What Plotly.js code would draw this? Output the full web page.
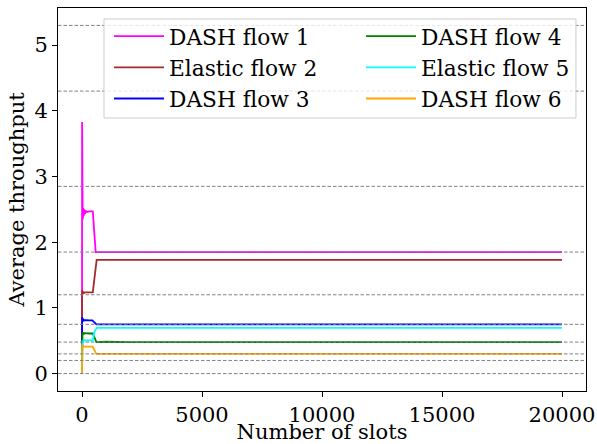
<!DOCTYPE html>
<html>
<head>
<meta charset="utf-8">
<script src="https://cdn.plot.ly/plotly-3.0.1.min.js"></script>
<style>html,body{margin:0;padding:0;background:#fff;}#chart{width:597px;height:444px;}</style>
</head>
<body>
<div id="chart"></div>
<script>
// ---- data ----
const seriesNames = ["DASH flow 1", "Elastic flow 2", "DASH flow 3", "DASH flow 4", "Elastic flow 5", "DASH flow 6"];
const seriesColors = ["#ff00ff", "#a52a2a", "#0000ff", "#008000", "#00ffff", "#ffa500"];

const flow1X = [0, 5, 15, 25, 35, 50, 70, 90, 120, 150, 200, 300, 450, 570, 1000, 5000, 10000, 15000, 20000];
const flow1Y = [0, 3.83, 2.30, 2.55, 2.35, 2.52, 2.40, 2.50, 2.43, 2.48, 2.46, 2.47, 2.47, 1.85, 1.85, 1.85, 1.85, 1.85, 1.85];

const flow2X = [0, 5, 20, 40, 70, 100, 200, 300, 450, 610, 1000, 1500, 2000, 5000, 10000, 15000, 20000];
const flow2Y = [0, 1.27, 1.21, 1.25, 1.22, 1.235, 1.235, 1.235, 1.235, 1.73, 1.73, 1.735, 1.73, 1.73, 1.73, 1.73, 1.73];

const flow3X = [0, 5, 20, 40, 70, 100, 200, 300, 430, 600, 1000, 5000, 10000, 15000, 20000];
const flow3Y = [0, 0.86, 0.79, 0.84, 0.80, 0.815, 0.81, 0.81, 0.81, 0.75, 0.75, 0.75, 0.75, 0.75, 0.75];

const flow4X = [0, 5, 20, 40, 70, 100, 200, 300, 450, 600, 1000, 2000, 5000, 10000, 15000, 20000];
const flow4Y = [0, 0.55, 0.60, 0.63, 0.60, 0.615, 0.61, 0.61, 0.61, 0.48, 0.485, 0.48, 0.48, 0.48, 0.48, 0.48];

const flow5X = [0, 5, 20, 40, 70, 100, 200, 300, 450, 520, 620, 1000, 5000, 10000, 15000, 20000];
const flow5Y = [0, 0.45, 0.50, 0.48, 0.51, 0.505, 0.505, 0.505, 0.505, 0.64, 0.695, 0.695, 0.695, 0.695, 0.695, 0.695];

const flow6X = [0, 5, 20, 40, 70, 100, 200, 300, 440, 600, 1000, 5000, 10000, 15000, 20000];
const flow6Y = [0, 0.44, 0.41, 0.42, 0.41, 0.41, 0.41, 0.41, 0.41, 0.30, 0.30, 0.30, 0.30, 0.30, 0.30];

const refLevels = [0, 0.2, 0.3, 0.48, 0.75, 1.2, 1.85, 2.85, 4.3, 5.3];

const xTicks = [0, 5000, 10000, 15000, 20000];
const yTicks = [0, 1, 2, 3, 4, 5];

// ---- chart ----
const xs = [flow1X, flow2X, flow3X, flow4X, flow5X, flow6X];
const ys = [flow1Y, flow2Y, flow3Y, flow4Y, flow5Y, flow6Y];
const legendIds = ["legend", "legend", "legend", "legend2", "legend2", "legend2"];

const traces = seriesNames.map((n, i) => ({
  type: "scatter", mode: "lines", name: n,
  x: xs[i], y: ys[i],
  line: {color: seriesColors[i], width: 1.8},
  legend: legendIds[i]
}));

const FONT = "DejaVu Serif";
const shapes = refLevels.map(v => ({
  type: "line", xref: "paper", yref: "y", x0: 0, x1: 1, y0: v, y1: v,
  line: {color: "#808080", width: 1, dash: "3.5px,2px"}, layer: "above"
}));
// legend frame (matplotlib-style box behind both legend columns)
shapes.push({
  type: "rect", xref: "paper", yref: "paper",
  x0: 0.0871, x1: 0.981, y0: 0.7128, y1: 0.9713,
  fillcolor: "rgba(255,255,255,0.8)", line: {color: "#cccccc", width: 1}, layer: "above"
});

const legendBase = {
  orientation: "v", xanchor: "left", yanchor: "top",
  bgcolor: "rgba(0,0,0,0)", borderwidth: 0, itemwidth: 50,
  font: {family: FONT, size: 21.7, color: "#000"}, traceorder: "normal"
};

const layout = {
  width: 597, height: 444,
  margin: {l: 58, r: 11, t: 8, b: 53},
  paper_bgcolor: "#fff", plot_bgcolor: "#fff",
  font: {family: FONT, size: 21, color: "#000"},
  showlegend: true,
  legend: Object.assign({}, legendBase, {x: 0.0966, y: 0.9805}),
  legend2: Object.assign({}, legendBase, {x: 0.5739, y: 0.9805}),
  xaxis: {
    range: [-1000, 21000], tickvals: xTicks, ticktext: xTicks.map(String),
    showgrid: false, zeroline: false, showline: true, mirror: true,
    linecolor: "#000", linewidth: 1, ticks: "outside", ticklen: 5, tickcolor: "#000",
    tickfont: {family: FONT, size: 21, color: "#000"},
    title: {text: "Number of slots", font: {family: FONT, size: 21, color: "#000"}, standoff: 6},
    automargin: false
  },
  yaxis: {
    range: [-0.265, 5.565], tickvals: yTicks, ticktext: yTicks.map(String),
    showgrid: false, zeroline: false, showline: true, mirror: true,
    linecolor: "#000", linewidth: 1, ticks: "outside", ticklen: 5, tickcolor: "#000",
    tickfont: {family: FONT, size: 21, color: "#000"},
    title: {text: "Average throughput", font: {family: FONT, size: 21, color: "#000"}, standoff: 4},
    automargin: false
  },
  shapes: shapes
};

Plotly.newPlot("chart", traces, layout, {staticPlot: true, displayModeBar: false});
</script>
</body>
</html>
